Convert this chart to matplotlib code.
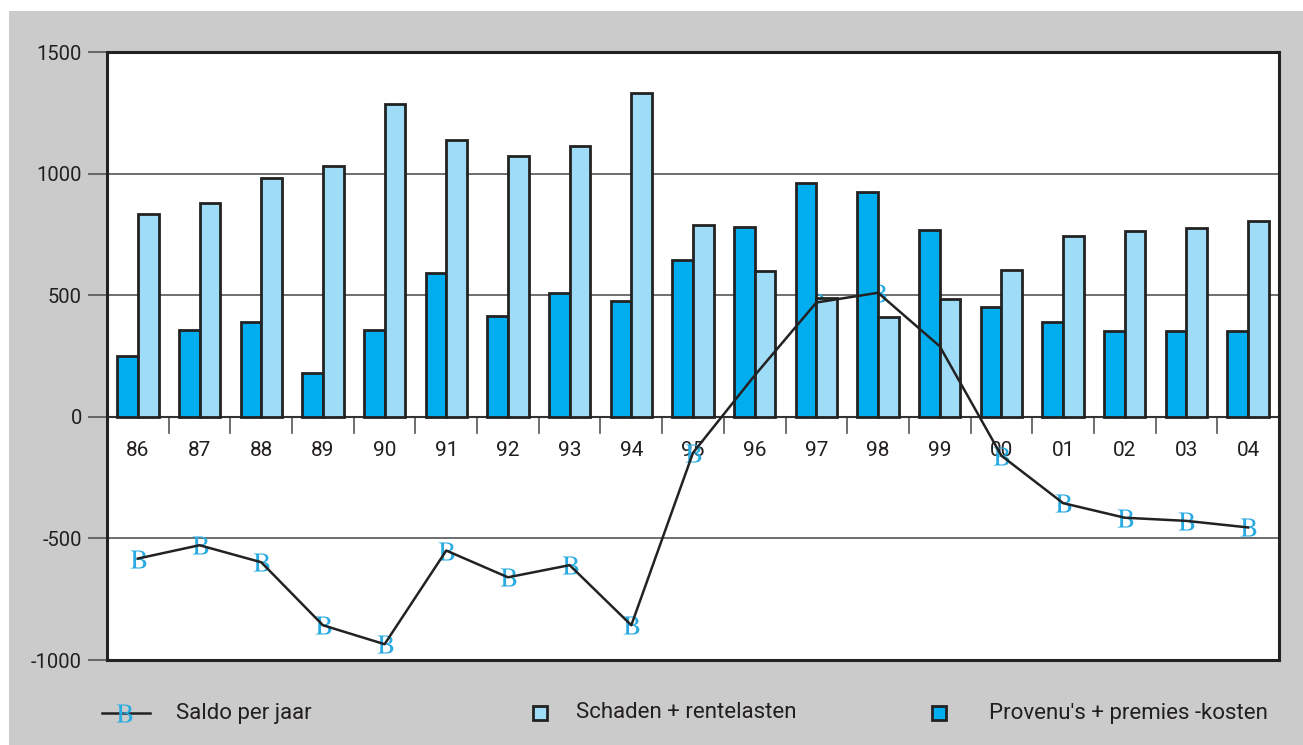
import matplotlib.pyplot as plt
from matplotlib.lines import Line2D
from matplotlib.patches import Rectangle
import numpy as np

plt.rcParams['font.family'] = ['Roboto', 'DejaVu Sans']
plt.rcParams['mathtext.fontset'] = 'stix'

jaren = ['86', '87', '88', '89', '90', '91', '92', '93', '94', '95',
         '96', '97', '98', '99', '00', '01', '02', '03', '04']
provenus = [250, 355, 390, 180, 355, 592, 415, 510, 477, 645,
            780, 961, 924, 768, 452, 390, 353, 353, 353]
schaden = [834, 879, 982, 1031, 1286, 1138, 1072, 1113, 1331, 789,
           600, 489, 411, 485, 604, 744, 764, 776, 805]
saldo = [-583, -528, -598, -857, -935, -550, -660, -610, -857, -148,
         170, 470, 510, 290, -160, -355, -415, -428, -455]

donker = '#00aeef'
licht = '#9fdcf7'
grijs = '#cbcbcb'
marker_kleur = '#29abe2'
tekst = '#231f20'

W, H = 1303, 745
fig = plt.figure(figsize=(W / 100, H / 100), dpi=100)
fig.patch.set_facecolor('white')
# grijze achtergrond
fig.add_artist(Rectangle((9 / W, 0), 1 - 9 / W, 1 - 11 / H, transform=fig.transFigure,
                         facecolor=grijs, edgecolor='none', zorder=-10))

ax = fig.add_axes([107 / W, 1 - 660 / H, (1279 - 107) / W, (660 - 52) / H])
ax.set_facecolor('white')

x = np.arange(len(jaren))
w = 0.335
ax.bar(x - w / 2, provenus, w, color=donker, edgecolor='#222222', linewidth=2, zorder=3)
ax.bar(x + w / 2, schaden, w, color=licht, edgecolor='#222222', linewidth=2, zorder=3)

# markers liggen achter de staven, de lijn erover
ax.plot(x, saldo, linestyle='none', marker=r'$\mathrm{B}$', markersize=13,
        markeredgewidth=0, color=marker_kleur, zorder=2)
ax.plot(x, saldo, color='#222222', linewidth=1.8, zorder=4)

ax.set_xlim(-0.5, len(jaren) - 0.5)
ax.set_ylim(-1000, 1500)
ax.set_yticks([-1000, -500, 0, 500, 1000, 1500])
ax.set_yticklabels(['-1000', '-500', '0', '500', '1000', '1500'])
ax.yaxis.grid(True, color='#555555', linewidth=1.2, zorder=1)
ax.set_axisbelow(True)
ax.axhline(0, color='#333333', linewidth=1.5, zorder=2)
ax.tick_params(axis='y', length=14, width=1.2, color='#555555',
               labelsize=14.5, labelcolor=tekst, pad=4)
ax.set_xticks([])
for spine in ax.spines.values():
    spine.set_linewidth(2.2)
    spine.set_color('#222222')

# jaartallen en scheidingsstreepjes onder de nullijn
for i, j in enumerate(jaren):
    ax.text(i, -138, j, ha='center', va='center', fontsize=15, color=tekst, zorder=1)
for i in range(1, len(jaren)):
    ax.plot([i - 0.5, i - 0.5], [0, -65], color='#555555', linewidth=1.2, zorder=1)

# legenda onderaan
ly = 1 - 713 / H
fig.add_artist(Line2D([102 / W, 150 / W], [ly, ly], color='#222222', linewidth=1.8,
                      transform=fig.transFigure))
fig.add_artist(Line2D([124 / W], [ly], linestyle='none', marker=r'$\mathrm{B}$',
                      markersize=13, markeredgewidth=0, color=marker_kleur,
                      transform=fig.transFigure))
for x0, kleur in [(533, licht), (932, donker)]:
    fig.add_artist(Rectangle((x0 / W, ly - 7 / H), 14 / W, 14 / H, transform=fig.transFigure,
                             facecolor=kleur, edgecolor='#222222', linewidth=2))
for tx, label in [(176, 'Saldo per jaar'), (576, 'Schaden + rentelasten'),
                  (989, "Provenu's + premies -kosten")]:
    fig.text(tx / W, ly, label, ha='left', va='center', fontsize=16, color=tekst)

fig.savefig('out.png', dpi=100, facecolor=fig.get_facecolor())
